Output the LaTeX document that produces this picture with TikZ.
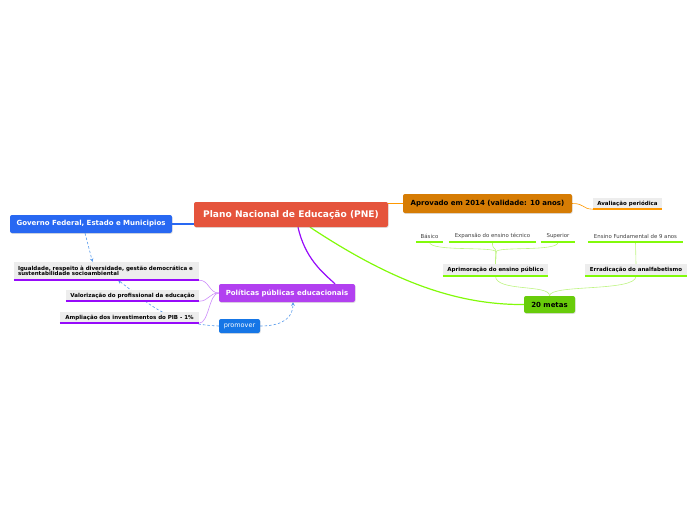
\documentclass[tikz,border=0pt]{standalone}
\usepackage{fontspec}
\setmainfont{DejaVu Sans}
\usetikzlibrary{backgrounds,shadows}
\definecolor{pnered}{RGB}{229,84,60}
\definecolor{govblue}{RGB}{40,104,242}
\definecolor{aprorange}{RGB}{214,124,4}
\definecolor{metgreen}{RGB}{104,204,10}
\definecolor{polpurple}{RGB}{178,64,240}
\definecolor{probblue}{RGB}{22,118,230}
\definecolor{lgreen}{RGB}{130,250,10}
\definecolor{palegreen}{RGB}{190,244,130}
\definecolor{lpurple}{RGB}{150,10,250}
\definecolor{palepurple}{RGB}{205,140,250}
\definecolor{lorange}{RGB}{255,152,0}
\definecolor{dashblue}{RGB}{80,150,235}
\tikzset{
  topic/.style={rounded corners=2pt,inner sep=0pt,text=white,font=\fontsize{7}{8.5}\selectfont\bfseries,
    drop shadow={opacity=0.25,shadow xshift=0.6pt,shadow yshift=-0.9pt}},
  leaf/.style={fill=black!7,inner sep=0pt,font=\fontsize{5.5}{6.6}\selectfont\bfseries},
  minor/.style={inner sep=0pt,text=black!75,font=\fontsize{5.4}{6.5}\selectfont},
  uline/.style={line width=2pt,#1},
  link/.style={line width=0.6pt,#1},
  relation/.style={dashed,dash pattern=on 2.5pt off 2pt,dashblue,line width=0.6pt,-stealth}
}
\begin{document}
\begin{tikzpicture}[x=1pt,y=-1pt]
\useasboundingbox (0,0) rectangle (696,520);
% main topics
\node[topic,fill=pnered,minimum width=194pt,minimum height=25pt,font=\fontsize{9.1}{11}\selectfont\bfseries] (pne) at (291,214.5) {Plano Nacional de Educação (PNE)};
\node[topic,fill=govblue,minimum width=162pt,minimum height=18pt] (gov) at (91,224) {Governo Federal, Estado e Municipios};
\node[topic,fill=aprorange,text=black,minimum width=169pt,minimum height=19pt] (apr) at (487.5,203.5) {Aprovado em 2014 (validade: 10 anos)};
\node[topic,fill=metgreen,text=black,minimum width=51pt,minimum height=17pt] (metas) at (549.5,304.5) {20 metas};
\node[topic,fill=polpurple,minimum width=136pt,minimum height=18pt] (pol) at (287,293) {Políticas públicas educacionais};
\node[topic,fill=probblue,minimum width=41pt,minimum height=14pt,font=\fontsize{6.5}{8}\selectfont] (prom) at (239.5,326) {promover};
% leaves
\node[leaf,minimum width=69pt,minimum height=11pt] (aval) at (627.5,203.5) {Avaliação periódica};
\node[leaf,minimum width=105pt,minimum height=12pt] (aprim) at (495.5,270) {Aprimoração do ensino público};
\node[leaf,minimum width=102pt,minimum height=12pt] (errad) at (636,270) {Erradicação do analfabetismo};
\node[minor,minimum width=27pt,minimum height=12pt] (bas) at (429.5,236) {Básico};
\node[minor,minimum width=87pt,minimum height=12pt] (expa) at (492.5,236) {Expansão do ensino técnico};
\node[minor,minimum width=34pt,minimum height=12pt] (sup) at (558,236) {Superior};
\node[minor,minimum width=95pt,minimum height=12pt] (fund) at (635.5,236) {Ensino Fundamental de 9 anos};
\node[leaf,minimum width=185pt,minimum height=18pt,text width=177pt,align=left] (igual) at (106.5,271) {Igualdade, respeito à diversidade, gestão democrática e\\[-1pt]sustentabilidade socioambiental};
\node[leaf,minimum width=133pt,minimum height=11pt] (valor) at (132.5,295.5) {Valorização do profissional da educação};
\node[leaf,minimum width=139pt,minimum height=11pt] (ampl) at (129.5,317.5) {Ampliação dos investimentos do PIB - 1\%};
% underlines
\draw[uline=lorange] (aval.south west) -- (aval.south east);
\draw[uline=lgreen] (aprim.south west) -- (aprim.south east);
\draw[uline=lgreen] (errad.south west) -- (errad.south east);
\draw[uline=lgreen] (bas.south west) -- (bas.south east);
\draw[uline=lgreen] (expa.south west) -- (expa.south east);
\draw[uline=lgreen] (sup.south west) -- (sup.south east);
\draw[uline=lgreen] (fund.south west) -- (fund.south east);
\draw[uline=lpurple] (igual.south west) -- (igual.south east);
\draw[uline=lpurple] (valor.south west) -- (valor.south east);
\draw[uline=lpurple] (ampl.south west) -- (ampl.south east);
\begin{pgfonlayer}{background}
\draw[link=govblue,line width=1.2pt] (pne.west |- gov.east) -- (gov.east);
\draw[link=lorange,line width=1.2pt] (pne.east |- apr.west) -- (apr.west);
\draw[link=lorange] (apr.east) .. controls (585,203.5) and (582,209) .. (aval.south west);
\draw[link=lgreen,line width=1.2pt] ([xshift=19pt]pne.south) .. controls (390,280) and (455,305) .. (metas.west);
\draw[link=lpurple,line width=1.2pt] ([xshift=7pt]pne.south) .. controls (305,258) and (322,272) .. ([xshift=48pt]pol.north);
\draw[link=palepurple] (pol.west) .. controls (209,293) and (209,280) .. (igual.south east);
\draw[link=palepurple] (pol.west) .. controls (209,293) and (209,301) .. (valor.south east);
\draw[link=palepurple] (pol.west) .. controls (209,293) and (209,323) .. (ampl.south east);
\draw[link=palegreen] (metas.north) .. controls (550,284) and (496,292) .. (aprim.south);
\draw[link=palegreen] (metas.north) .. controls (550,284) and (636,292) .. (errad.south);
\draw[link=palegreen] (aprim.north) -- (496,252) .. controls (496,246) and (430,252) .. (bas.south);
\draw[link=palegreen] (aprim.north) -- (496,252) .. controls (496,247) and (492,250) .. (expa.south);
\draw[link=palegreen] (aprim.north) -- (496,252) .. controls (496,246) and (558,252) .. (sup.south);
\draw[link=palegreen] (errad.north) -- (fund.south);
\draw[relation] ([xshift=-6pt]gov.south) -- ([xshift=-14pt]igual.north);
\draw[relation] (prom.east) .. controls (285,326) and (293,316) .. ([xshift=6pt]pol.south);
\draw[relation] (prom.west) .. controls (165,324) and (145,300) .. ([xshift=11.5pt]igual.south);
\end{pgfonlayer}
\end{tikzpicture}
\end{document}
